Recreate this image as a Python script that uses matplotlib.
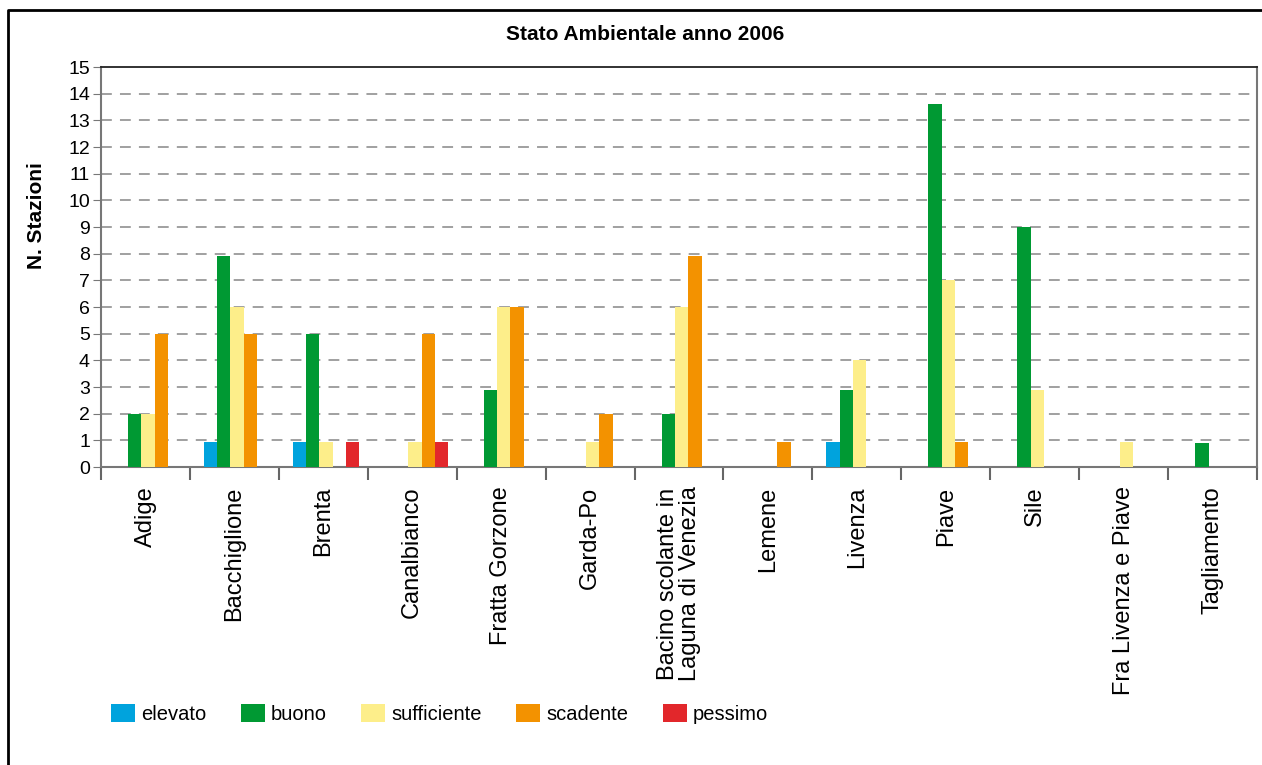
import numpy as np
import matplotlib
matplotlib.use("Agg")
import matplotlib.pyplot as plt
from matplotlib.lines import Line2D
from matplotlib.patches import Patch

plt.rcParams['font.family'] = ['Liberation Sans', 'DejaVu Sans']

bacini = ["Adige", "Bacchiglione", "Brenta", "Canalbianco", "Fratta Gorzone",
          "Garda-Po", "Bacino scolante in\nLaguna di Venezia", "Lemene",
          "Livenza", "Piave", "Sile", "Fra Livenza e Piave", "Tagliamento"]

classi = ["elevato", "buono", "sufficiente", "scadente", "pessimo"]
colori = ["#00a3dd", "#009933", "#fdee8a", "#f39200", "#e2272b"]

elevato     = [0, 0.94, 0.94, 0, 0, 0, 0, 0, 0.94, 0, 0, 0, 0]
buono       = [2, 7.9, 5, 0, 2.88, 0, 2, 0, 2.88, 13.6, 9, 0, 0.9]
sufficiente = [2, 6, 0.94, 0.94, 6, 0.94, 6, 0, 4, 7, 2.88, 0.94, 0]
scadente    = [5, 5, 0, 5, 6, 2, 7.9, 0.94, 0, 0.94, 0, 0, 0]
pessimo     = [0, 0, 0.94, 0.94, 0, 0, 0, 0, 0, 0, 0, 0, 0]
serie = [elevato, buono, sufficiente, scadente, pessimo]

fig = plt.figure(figsize=(12.62, 7.65), dpi=100)
ax = fig.add_axes([101/1262, 1 - 467/765, 1156/1262, 400/765])

x = np.arange(len(bacini))
w = 0.15
for i, (vals, col) in enumerate(zip(serie, colori)):
    ax.bar(x + (i - 2) * w + 0.03, vals, width=w, color=col, zorder=3,
           edgecolor="none")

ax.set_xlim(-0.5, len(bacini) - 0.5)
ax.set_ylim(0, 15)
ax.set_yticks(range(0, 16))
ax.tick_params(axis="y", labelsize=14, length=6, color="#777777", pad=2)
ax.set_xticks(x)
ax.set_xticklabels(bacini, rotation=90, fontsize=17, va="top", ha="center",
                   linespacing=0.95)
ax.set_xticks(np.arange(-0.5, len(bacini)), minor=True)
ax.tick_params(axis="x", which="major", length=0, pad=14)
ax.tick_params(axis="x", which="minor", length=9, width=1.5, color="#666666")

for yv in range(1, 15):
    ax.axhline(yv, color="#999999", lw=1.3, ls=(0, (6, 4.5)), zorder=1)

for s in ["left", "right", "bottom"]:
    ax.spines[s].set_color("#777777")
    ax.spines[s].set_linewidth(1.5)
ax.spines["top"].set_color("#222222")
ax.spines["top"].set_linewidth(1.3)

ax.set_ylabel("N. Stazioni", fontsize=15, fontweight="bold")
ax.yaxis.set_label_coords(-0.0476, 0.6275)
fig.text(0.511, 1 - 35/765, "Stato Ambientale anno 2006", ha="center",
         va="center", fontsize=15, fontweight="bold")

handles = [Patch(facecolor=c, edgecolor="none") for c in colori]
fig.legend(handles, classi, loc="center left", ncol=5, frameon=False,
           bbox_to_anchor=(93/1262, 1 - 714/765), fontsize=14.5,
           handlelength=1.2, handleheight=0.95, handletextpad=0.3,
           columnspacing=1.7)

# cornice esterna
fig.add_artist(Line2D([8/1262, 8/1262, 1], [0, 1 - 10/765, 1 - 10/765],
                      transform=fig.transFigure, color="black", lw=2))

fig.savefig("out.png", dpi=100)
